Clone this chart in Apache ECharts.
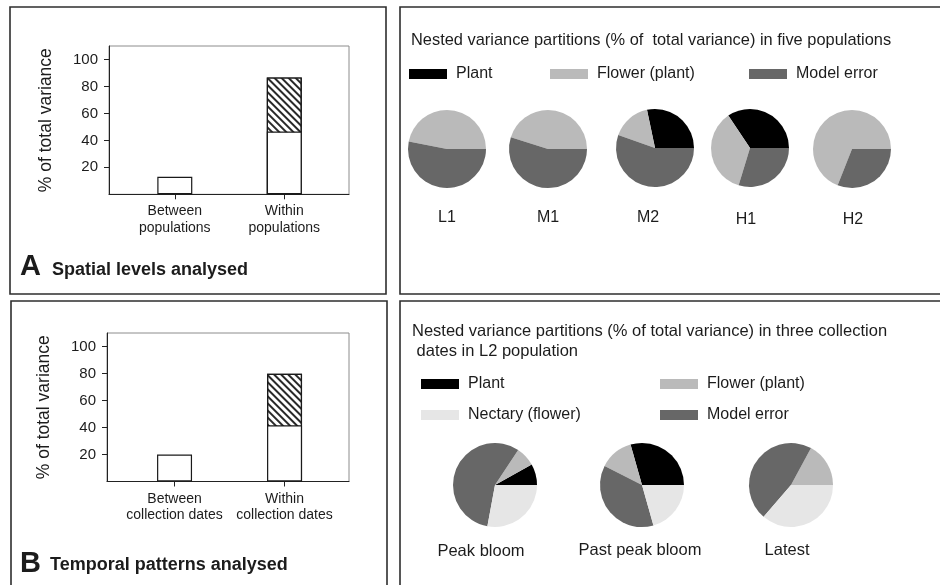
<!DOCTYPE html>
<html>
<head>
<meta charset="utf-8">
<title>Variance partitions</title>
<script src="https://cdn.jsdelivr.net/npm/echarts@6/dist/echarts.min.js"></script>
<style>
  html, body { margin: 0; padding: 0; background: #ffffff; }
  #chart { width: 940px; height: 585px; }
</style>
</head>
<body>
<div id="chart"></div>
<script>
// ---- Data -------------------------------------------------------------
// Panel A: spatial levels (% of total variance)
const spatialCategories = ['Between\npopulations', 'Within\npopulations'];
const spatialLower = [13, 46.5];   // open part of each bar
const spatialUpper = [0, 40.2];    // hatched part stacked on top

// Panel B: temporal patterns (% of total variance)
const temporalCategories = ['Between\ncollection dates', 'Within\ncollection dates'];
const temporalLower = [20, 41.6];
const temporalUpper = [0, 38.2];

const yTicks = [20, 40, 60, 80, 100];

// Nested variance partitions in five populations
const populations = ['L1', 'M1', 'M2', 'H1', 'H2'];
const popPlant  = [0, 0, 28.3, 34.4, 0];
const popFlower = [46.9, 45.1, 16.3, 35.9, 69.0];
const popError  = [53.1, 54.9, 55.4, 29.7, 31.0];

// Nested variance partitions in three collection dates (L2 population)
const dates = ['Peak bloom', 'Past peak bloom', 'Latest'];
const datePlant   = [8.1, 29.4, 0];
const dateFlower  = [7.6, 13.1, 17.1];
const dateError   = [56.4, 36.9, 46.6];
const dateNectary = [27.9, 20.6, 36.3];

// ---- Styling / layout -------------------------------------------------
const FONT = '"Liberation Sans", Arial, Helvetica, sans-serif';
const INK = '#1c1c1c';
const partColors = {
  'Plant': '#000000',
  'Flower (plant)': '#bababa',
  'Nectary (flower)': '#e6e6e6',
  'Model error': '#676767'
};
const popCenters = [[447, 149], [548, 149], [655, 148], [750, 148], [852, 149]];
const popLabelPos = [[447, 218], [548, 218], [648, 218], [746, 220], [853, 220]];
const dateCenters = [[495, 485], [642, 485], [791, 485]];
const dateLabelPos = [[481, 551], [640, 550], [787, 550]];

const grids = [], xAxes = [], yAxes = [], series = [];

function addBarPanel(cats, lower, upper, box, xRange) {
  const idx = grids.length;
  const positions = cats.map((c, i) => i);
  grids.push({
    left: box[0], top: box[1], width: box[2], height: box[3],
    show: true, borderColor: '#8c8c8c', borderWidth: 1, backgroundColor: 'transparent'
  });
  xAxes.push({
    type: 'value', gridIndex: idx, min: xRange[0], max: xRange[1],
    splitLine: { show: false },
    axisLine: { show: true, onZero: false, lineStyle: { color: '#222', width: 1 } },
    axisTick: { show: true, length: 5, customValues: positions, lineStyle: { color: '#222' } },
    axisLabel: {
      customValues: positions,
      formatter: v => cats[Math.round(v)] || '',
      fontFamily: FONT, fontSize: 14, color: INK, lineHeight: 16.5, margin: 9
    }
  });
  yAxes.push({
    type: 'value', gridIndex: idx, min: 0, max: 110,
    splitLine: { show: false },
    axisLine: { show: true, onZero: false, lineStyle: { color: '#222', width: 1 } },
    axisTick: { show: true, length: 5, customValues: yTicks, lineStyle: { color: '#222' } },
    axisLabel: { customValues: yTicks, fontFamily: FONT, fontSize: 15, color: INK, margin: 11 },
    name: '% of total variance', nameLocation: 'middle', nameRotate: 90, nameGap: 54,
    nameTextStyle: { fontFamily: FONT, fontSize: 17.5, color: INK }
  });
  const outline = { color: '#ffffff', borderColor: '#1a1a1a', borderWidth: 1.2 };
  // full height (lower + upper) drawn hatched, open lower part drawn over it
  series.push({
    type: 'bar', xAxisIndex: idx, yAxisIndex: idx, barWidth: 35, barGap: '-100%', silent: true,
    data: positions.map(i => upper[i] > 0 ? [i, lower[i] + upper[i]] : [i, '-']),
    itemStyle: Object.assign({}, outline, {
      decal: {
        symbol: 'rect', symbolSize: 1, color: '#2a2a2a',
        dashArrayX: [1, 0], dashArrayY: [1.5, 3], rotation: Math.PI / 4
      }
    })
  });
  series.push({
    type: 'bar', xAxisIndex: idx, yAxisIndex: idx, barWidth: 35, barGap: '-100%', silent: true,
    data: positions.map(i => [i, lower[i]]),
    itemStyle: outline
  });
}

addBarPanel(spatialCategories, spatialLower, spatialUpper, [109, 46, 240, 148.3], [-0.601, 1.591]);
addBarPanel(temporalCategories, temporalLower, temporalUpper, [107, 333, 242, 148.5], [-0.614, 1.586]);

function addPie(center, radius, parts) {
  series.push({
    type: 'pie', center: center, radius: radius, startAngle: 0, clockwise: false,
    silent: true, label: { show: false }, labelLine: { show: false },
    emphasis: { disabled: true },
    data: parts.filter(p => p[1] > 0).map(p => ({
      name: p[0], value: p[1], itemStyle: { color: partColors[p[0]] }
    }))
  });
}

populations.forEach((name, i) => {
  addPie(popCenters[i], 39, [
    ['Plant', popPlant[i]], ['Flower (plant)', popFlower[i]], ['Model error', popError[i]]
  ]);
});
dates.forEach((name, i) => {
  addPie(dateCenters[i], 42, [
    ['Plant', datePlant[i]], ['Flower (plant)', dateFlower[i]],
    ['Model error', dateError[i]], ['Nectary (flower)', dateNectary[i]]
  ]);
});

// ---- Legends ----------------------------------------------------------
const legendBase = {
  icon: 'rect', itemWidth: 38, itemHeight: 10, padding: 0, selectedMode: false,
  textStyle: { fontFamily: FONT, fontSize: 16, color: INK, padding: [0, 0, 0, 4] }
};
const legends = [
  Object.assign({}, legendBase, { data: ['Plant'], left: 409, top: 66 }),
  Object.assign({}, legendBase, { data: ['Flower (plant)'], left: 550, top: 66 }),
  Object.assign({}, legendBase, { data: ['Model error'], left: 749, top: 66 }),
  Object.assign({}, legendBase, { data: ['Plant', 'Nectary (flower)'], left: 421, top: 376, orient: 'vertical', itemGap: 15 }),
  Object.assign({}, legendBase, { data: ['Flower (plant)', 'Model error'], left: 660, top: 376, orient: 'vertical', itemGap: 15 })
];

// ---- Frames and text --------------------------------------------------
function frame(x, y, w, h) {
  return { type: 'rect', silent: true, shape: { x: x, y: y, width: w, height: h },
           style: { fill: 'none', stroke: '#2e2e2e', lineWidth: 1.6 } };
}
function text(str, x, y, size, opts) {
  opts = opts || {};
  const align = opts.align || 'left';
  return {
    type: 'text', silent: true, x: x, y: y,
    style: {
      text: str, fill: INK, fontFamily: FONT, fontSize: size,
      fontWeight: opts.bold ? 'bold' : 'normal', lineHeight: opts.lineHeight,
      align: align, textAlign: align, verticalAlign: 'middle', textVerticalAlign: 'middle'
    }
  };
}

const graphics = [
  frame(10, 7, 376, 287),
  frame(400, 7, 560, 287),
  frame(11, 301, 376, 300),
  frame(400, 301, 560, 300),
  text('A', 20, 267, 29, { bold: true }),
  text('Spatial levels analysed', 52, 270.5, 18, { bold: true }),
  text('B', 20, 564, 29, { bold: true }),
  text('Temporal patterns analysed', 50, 565.5, 18, { bold: true }),
  text('Nested variance partitions (% of  total variance) in five populations', 411, 40, 16.4),
  text('Nested variance partitions (% of total variance) in three collection\n dates in L2 population', 412, 341, 16.5, { lineHeight: 20 })
];
populations.forEach((name, i) => graphics.push(text(name, popLabelPos[i][0], popLabelPos[i][1], 16, { align: 'center' })));
dates.forEach((name, i) => graphics.push(text(name, dateLabelPos[i][0], dateLabelPos[i][1], 16.5, { align: 'center' })));

const chart = echarts.init(document.getElementById('chart'), null, { renderer: 'canvas' });
chart.setOption({
  backgroundColor: '#ffffff',
  animation: false,
  textStyle: { fontFamily: FONT },
  grid: grids,
  xAxis: xAxes,
  yAxis: yAxes,
  legend: legends,
  series: series,
  graphic: { elements: graphics }
});
</script>
</body>
</html>
